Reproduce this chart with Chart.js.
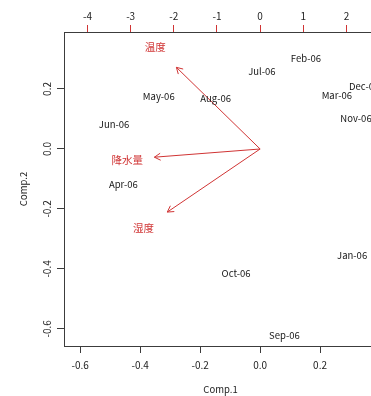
<!DOCTYPE html>
<html>
<head>
<meta charset="utf-8">
<script src="https://cdn.jsdelivr.net/npm/chart.js@4"></script>
<style>
  html, body { margin: 0; padding: 0; overflow: hidden; background: #fff; }
</style>
</head>
<body>
<canvas id="biplot" width="380" height="396"></canvas>
<script>
// ---- data ----
// observation scores (bottom / left axes)
const MONTHS = ['Jan-06', 'Feb-06', 'Mar-06', 'Apr-06', 'May-06', 'Jun-06',
                'Jul-06', 'Aug-06', 'Sep-06', 'Oct-06', 'Nov-06', 'Dec-06'];
const COMP1 = [0.307, 0.153, 0.256, -0.456, -0.338, -0.487, 0.006, -0.148, 0.081, -0.080, 0.320, 0.347];
const COMP2 = [-0.356, 0.303, 0.179, -0.117, 0.175, 0.081, 0.258, 0.170, -0.621, -0.416, 0.101, 0.207];

// variable loadings (top / right axes)
const VARS = ['温度', '降水量', '湿度'];
const LABEL_X = [-2.43, -3.08, -2.70];   // where the names sit
const LABEL_Y = [2.37, -0.25, -1.84];
const ARROW_X = [-1.94, -2.45, -2.15];   // where the arrows end
const ARROW_Y = [1.89, -0.19, -1.46];

// tick labels
const BOTTOM_TICKS = [-0.6, -0.4, -0.2, 0.0, 0.2];
const LEFT_TICKS = [-0.6, -0.4, -0.2, 0.0, 0.2];
const TOP_TICKS = [-4, -3, -2, -1, 0, 1, 2];

const RED = '#d03434';
const FRAME = '#3c3c3c';
const FONT = '"Noto Sans CJK JP", "Noto Sans", sans-serif';

function fixTicks(values) {
  return (scale) => { scale.ticks = values.map(v => ({ value: v })); };
}

// ---- datasets ----
const datasets = [{
  label: 'scores',
  data: MONTHS.map((m, i) => ({ x: COMP1[i], y: COMP2[i] })),
  pointRadius: 0,
  xAxisID: 'x',
  yAxisID: 'y'
}];
VARS.forEach((v, i) => {
  datasets.push({
    label: v,
    type: 'line',
    data: [{ x: 0, y: 0 }, { x: ARROW_X[i], y: ARROW_Y[i] }],
    borderColor: RED,
    borderWidth: 1,
    pointRadius: 0,
    fill: false,
    xAxisID: 'x2',
    yAxisID: 'y2'
  });
});

// labels, arrow heads and rotated left ticks
const biplotText = {
  id: 'biplotText',
  afterDatasetsDraw(chart) {
    const ctx = chart.ctx;
    const { x, y, x2, y2 } = chart.scales;
    ctx.save();

    // arrow heads
    ctx.strokeStyle = RED;
    ctx.lineWidth = 1;
    VARS.forEach((v, i) => {
      const px0 = x2.getPixelForValue(0), py0 = y2.getPixelForValue(0);
      const px = x2.getPixelForValue(ARROW_X[i]), py = y2.getPixelForValue(ARROW_Y[i]);
      const ang = Math.atan2(py - py0, px - px0);
      const len = 7;
      ctx.beginPath();
      ctx.moveTo(px - len * Math.cos(ang - Math.PI / 6), py - len * Math.sin(ang - Math.PI / 6));
      ctx.lineTo(px, py);
      ctx.lineTo(px - len * Math.cos(ang + Math.PI / 6), py - len * Math.sin(ang + Math.PI / 6));
      ctx.stroke();
    });

    ctx.textAlign = 'center';
    ctx.textBaseline = 'middle';

    // variable names
    ctx.fillStyle = RED;
    ctx.font = '10.5px ' + FONT;
    VARS.forEach((v, i) => {
      ctx.fillText(v, x2.getPixelForValue(LABEL_X[i]), y2.getPixelForValue(LABEL_Y[i]));
    });

    // month names
    ctx.fillStyle = '#161616';
    ctx.font = '9.5px ' + FONT;
    MONTHS.forEach((m, i) => {
      ctx.fillText(m, x.getPixelForValue(COMP1[i]), y.getPixelForValue(COMP2[i]));
    });

    // left tick labels, written upwards like R does
    ctx.fillStyle = '#222';
    ctx.font = '10px ' + FONT;
    LEFT_TICKS.forEach(v => {
      ctx.save();
      ctx.translate(47, y.getPixelForValue(v));
      ctx.rotate(-Math.PI / 2);
      ctx.fillText(v.toFixed(1), 0, 0);
      ctx.restore();
    });
    ctx.restore();
  }
};

const ctx = document.getElementById('biplot').getContext('2d');
new Chart(ctx, {
  type: 'scatter',
  data: { datasets: datasets },
  options: {
    responsive: false,
    animation: false,
    layout: { padding: { left: 0, right: 3, top: 0, bottom: 0 } },
    plugins: {
      legend: { display: false },
      tooltip: { enabled: false }
    },
    scales: {
      x: {
        type: 'linear',
        position: 'bottom',
        min: -0.654,
        max: 0.39,
        afterBuildTicks: fixTicks(BOTTOM_TICKS),
        afterFit: (s) => { s.height = 50; },
        grid: { drawOnChartArea: false, drawTicks: true, tickLength: 7, tickColor: FRAME },
        border: { display: true, color: FRAME, width: 1 },
        ticks: {
          color: '#222', padding: 6, maxRotation: 0, autoSkip: false,
          font: { family: FONT, size: 10 },
          callback: (v) => Number(v).toFixed(1)
        },
        title: { display: true, text: 'Comp.1', color: '#222', font: { family: FONT, size: 9.5 }, padding: { top: 0, bottom: 1 } }
      },
      y: {
        type: 'linear',
        position: 'left',
        min: -0.657,
        max: 0.39,
        afterBuildTicks: fixTicks(LEFT_TICKS),
        afterFit: (s) => { s.width = 64; },
        grid: { drawOnChartArea: false, drawTicks: true, tickLength: 7, tickColor: FRAME },
        border: { display: true, color: FRAME, width: 1 },
        ticks: { display: false },
        title: { display: true, text: 'Comp.2', color: '#222', font: { family: FONT, size: 9.5 }, padding: { top: 18, bottom: 0 } }
      },
      x2: {
        type: 'linear',
        position: 'top',
        min: -4.544,
        max: 2.708,
        afterBuildTicks: fixTicks(TOP_TICKS),
        afterFit: (s) => { s.height = 32; },
        grid: { drawOnChartArea: false, drawTicks: true, tickLength: 7, tickColor: RED },
        border: { display: true, color: FRAME, width: 1 },
        ticks: {
          color: '#222', padding: 3, maxRotation: 0, autoSkip: false,
          font: { family: FONT, size: 10 },
          callback: (v) => String(v)
        }
      },
      y2: {
        type: 'linear',
        position: 'right',
        display: false,
        min: -4.56,
        max: 2.708
      }
    }
  },
  plugins: [biplotText]
});
</script>
</body>
</html>
